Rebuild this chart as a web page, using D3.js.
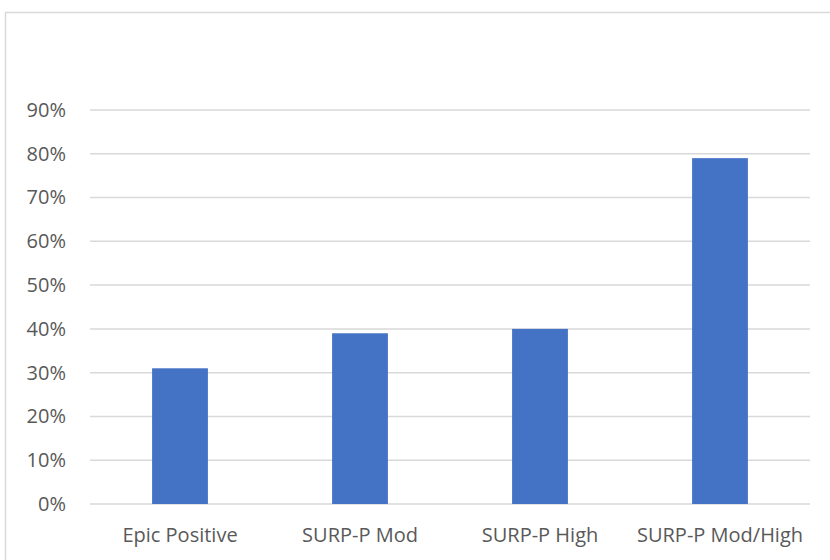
<!DOCTYPE html>
<html><head><meta charset="utf-8">
<script src="https://cdn.jsdelivr.net/npm/d3@7"></script>
<style>html,body{margin:0;padding:0;background:#fff;}svg{display:block;}</style>
</head><body>
<svg id="chart" width="830" height="560"></svg>
<script>
const categories = ["Epic Positive", "SURP-P Mod", "SURP-P High", "SURP-P Mod/High"];
const values = [0.31, 0.39, 0.40, 0.79];
const yTicks = [0, 0.1, 0.2, 0.3, 0.4, 0.5, 0.6, 0.7, 0.8, 0.9];

const svg = d3.select("#chart");
const font = "'Open Sans', 'Liberation Sans', sans-serif";

svg.append("rect").attr("x", 5.5).attr("y", 12.5).attr("width", 840).attr("height", 600)
  .attr("fill", "#fff").attr("stroke", "#d9d9d9").attr("stroke-width", 1.5);

const x = d3.scaleBand().domain(categories).range([90, 810]).paddingInner(0.69).paddingOuter(0.345);
const y = d3.scaleLinear().domain([0, 0.9]).range([504, 110]);

const grid = svg.append("g");
grid.selectAll("line").data(yTicks).join("line")
  .attr("x1", 90).attr("x2", 810)
  .attr("y1", d => y(d)).attr("y2", d => y(d))
  .attr("stroke", "#d9d9d9").attr("stroke-width", 1.5);

const yAxis = svg.append("g").attr("transform", "translate(66,0)")
  .call(d3.axisLeft(y).tickValues(yTicks).tickFormat(d3.format(".0%")).tickSize(0).tickPadding(0));
yAxis.select(".domain").remove();
yAxis.selectAll("text").attr("fill", "#595959").style("font-family", font).style("font-size", "20px");

svg.append("g").selectAll("rect").data(values).join("rect")
  .attr("x", (d, i) => x(categories[i]))
  .attr("width", x.bandwidth())
  .attr("y", d => y(d))
  .attr("height", d => y(0) - y(d))
  .attr("fill", "#4472C4");

const xAxis = svg.append("g").attr("transform", "translate(0,504)")
  .call(d3.axisBottom(x).tickSize(0).tickPadding(24));
xAxis.select(".domain").remove();
xAxis.selectAll("text").attr("fill", "#595959").style("font-family", font).style("font-size", "20px");
</script>
</body></html>
